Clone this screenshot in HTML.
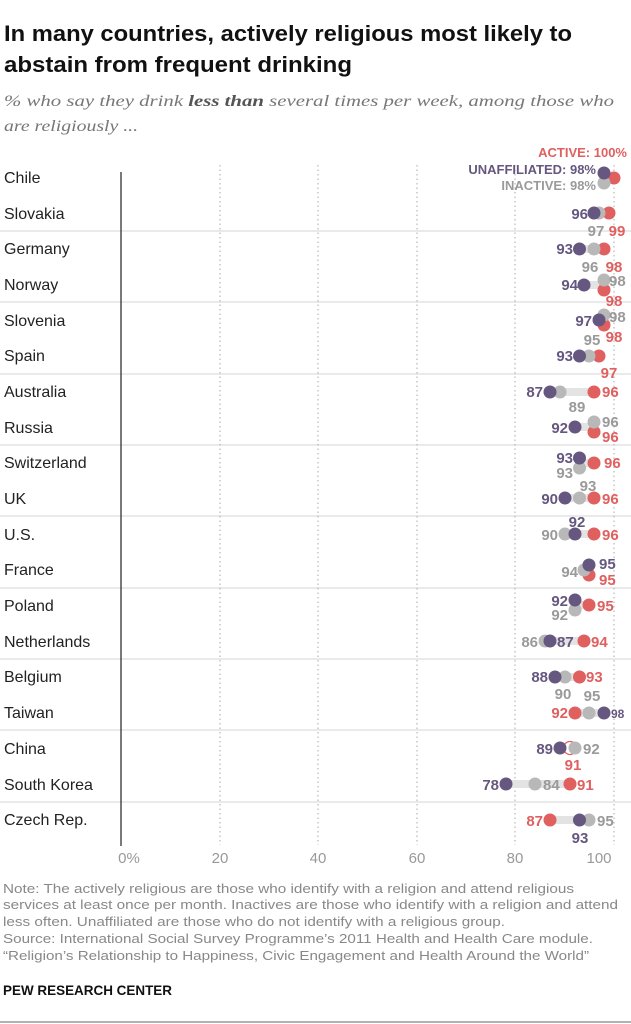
<!DOCTYPE html>
<html><head><meta charset="utf-8"><style>
html,body{margin:0;padding:0;background:#fff}
svg{display:block}
.c{font:16px "Liberation Sans",sans-serif;fill:#222}
.l{font:bold 15px "Liberation Sans",sans-serif}
.u{fill:#65577f}.a{fill:#e05f5f}.i{fill:#9a9a9a}
</style></head><body>
<svg width="631" height="1024" xmlns="http://www.w3.org/2000/svg">
<text x="4" y="41" textLength="568" lengthAdjust="spacingAndGlyphs" style="font:bold 22px 'Liberation Sans',sans-serif" fill="#111">In many countries, actively religious most likely to</text>
<text x="4" y="72" textLength="348" lengthAdjust="spacingAndGlyphs" style="font:bold 22px 'Liberation Sans',sans-serif" fill="#111">abstain from frequent drinking</text>
<text x="4" y="106" textLength="610" lengthAdjust="spacingAndGlyphs" style="font:italic 16px 'Liberation Serif',serif" fill="#777">% who say they drink <tspan font-weight="bold" fill="#555">less than</tspan> several times per week, among those who</text>
<text x="4" y="131" textLength="134" lengthAdjust="spacingAndGlyphs" style="font:italic 16px 'Liberation Serif',serif" fill="#777">are religiously ...</text>
<g stroke="#ddd" stroke-width="1.2">
<line x1="0" y1="231" x2="631" y2="231"/><line x1="0" y1="302" x2="631" y2="302"/>
<line x1="0" y1="374" x2="631" y2="374"/><line x1="0" y1="445" x2="631" y2="445"/>
<line x1="0" y1="516" x2="631" y2="516"/><line x1="0" y1="588" x2="631" y2="588"/>
<line x1="0" y1="659" x2="631" y2="659"/><line x1="0" y1="730" x2="631" y2="730"/>
<line x1="0" y1="802" x2="631" y2="802"/>
</g>
<g stroke="#aaa" stroke-width="1" stroke-dasharray="1.5,3">
<line x1="220" y1="165" x2="220" y2="845"/><line x1="318" y1="165" x2="318" y2="845"/>
<line x1="417" y1="165" x2="417" y2="845"/><line x1="515" y1="165" x2="515" y2="845"/>
<line x1="614" y1="165" x2="614" y2="845"/>
</g>
<line x1="121" y1="172" x2="121" y2="846" stroke="#222" stroke-width="1.2"/>
<g fill="#999" style="font:15px 'Liberation Sans',sans-serif" text-anchor="middle">
<text x="129" y="863">0%</text><text x="220" y="863">20</text><text x="318" y="863">40</text><text x="417" y="863">60</text><text x="515" y="863">80</text><text x="599" y="863">100</text>
</g>
<g class="c">
<text x="4" y="183">Chile</text><text x="4" y="219">Slovakia</text><text x="4" y="254">Germany</text>
<text x="4" y="290">Norway</text><text x="4" y="326">Slovenia</text><text x="4" y="361">Spain</text>
<text x="4" y="397">Australia</text><text x="4" y="433">Russia</text><text x="4" y="468">Switzerland</text>
<text x="4" y="504">UK</text><text x="4" y="540">U.S.</text><text x="4" y="575">France</text>
<text x="4" y="611">Poland</text><text x="4" y="647">Netherlands</text><text x="4" y="682">Belgium</text>
<text x="4" y="718">Taiwan</text><text x="4" y="754">China</text><text x="4" y="790">South Korea</text>
<text x="4" y="825">Czech Rep.</text>
</g>
<g fill="#e3e3e3">
<rect x="550" y="388" width="44" height="8"/><rect x="565" y="494" width="29" height="8"/>
<rect x="565" y="530" width="29" height="8"/><rect x="545" y="637" width="39" height="8"/>
<rect x="555" y="673" width="25" height="8"/><rect x="575" y="709" width="29" height="8"/>
<rect x="506" y="780" width="64" height="8"/><rect x="550" y="816" width="39" height="8"/>
<rect x="579" y="245" width="25" height="8"/><rect x="584" y="281" width="20" height="8"/>
<rect x="579" y="352" width="20" height="8"/><rect x="575" y="423" width="19" height="8"/>
<rect x="575" y="459" width="19" height="8"/><rect x="575" y="601" width="14" height="8"/>
</g>
<g>
<circle cx="614" cy="178" r="6.5" fill="#e05f5f"/><circle cx="604" cy="183" r="6.5" fill="#b8b8b8"/><circle cx="604" cy="173" r="6.5" fill="#65577f"/>
<circle cx="609" cy="213" r="6.5" fill="#e05f5f"/><circle cx="599" cy="213" r="6.5" fill="#b8b8b8"/><circle cx="594" cy="213" r="6.5" fill="#65577f"/>
<circle cx="604" cy="249" r="6.5" fill="#e05f5f"/><circle cx="594" cy="249" r="6.5" fill="#b8b8b8"/><circle cx="579.5" cy="249" r="6.5" fill="#65577f"/>
<circle cx="604" cy="290" r="6.5" fill="#e05f5f"/><circle cx="604" cy="280" r="6.5" fill="#b8b8b8"/><circle cx="584" cy="285" r="6.5" fill="#65577f"/>
<circle cx="604" cy="325" r="6.5" fill="#e05f5f"/><circle cx="604" cy="315" r="6.5" fill="#b8b8b8"/><circle cx="599" cy="320" r="6.5" fill="#65577f"/>
<circle cx="599" cy="356" r="6.5" fill="#e05f5f"/><circle cx="589" cy="356" r="6.5" fill="#b8b8b8"/><circle cx="579.5" cy="356" r="6.5" fill="#65577f"/>
<circle cx="594" cy="392" r="6.5" fill="#e05f5f"/><circle cx="560" cy="392" r="6.5" fill="#b8b8b8"/><circle cx="550" cy="392" r="6.5" fill="#65577f"/>
<circle cx="594" cy="432" r="6.5" fill="#e05f5f"/><circle cx="594" cy="422" r="6.5" fill="#b8b8b8"/><circle cx="575" cy="427" r="6.5" fill="#65577f"/>
<circle cx="594" cy="463" r="6.5" fill="#e05f5f"/><circle cx="579.5" cy="468" r="6.5" fill="#b8b8b8"/><circle cx="579.5" cy="458" r="6.5" fill="#65577f"/>
<circle cx="594" cy="498" r="6.5" fill="#e05f5f"/><circle cx="579.5" cy="498" r="6.5" fill="#b8b8b8"/><circle cx="565" cy="498" r="6.5" fill="#65577f"/>
<circle cx="594" cy="534" r="6.5" fill="#e05f5f"/><circle cx="565" cy="534" r="6.5" fill="#b8b8b8"/><circle cx="575" cy="534" r="6.5" fill="#65577f"/>
<circle cx="589" cy="575" r="6.5" fill="#e05f5f"/><circle cx="584" cy="570" r="6.5" fill="#b8b8b8"/><circle cx="589" cy="565" r="6.5" fill="#65577f"/>
<circle cx="589" cy="605" r="6.5" fill="#e05f5f"/><circle cx="575" cy="610" r="6.5" fill="#b8b8b8"/><circle cx="575" cy="600" r="6.5" fill="#65577f"/>
<circle cx="584" cy="641" r="6.5" fill="#e05f5f"/><circle cx="545" cy="641" r="6.5" fill="#b8b8b8"/><circle cx="550" cy="641" r="6.5" fill="#65577f"/>
<circle cx="579.5" cy="677" r="6.5" fill="#e05f5f"/><circle cx="565" cy="677" r="6.5" fill="#b8b8b8"/><circle cx="555" cy="677" r="6.5" fill="#65577f"/>
<circle cx="575" cy="713" r="6.5" fill="#e05f5f"/><circle cx="589" cy="713" r="6.5" fill="#b8b8b8"/><circle cx="604" cy="713" r="6.5" fill="#65577f"/>
<circle cx="570" cy="748" r="6.5" fill="#fff" stroke="#e05f5f" stroke-width="1.2"/><circle cx="575" cy="748" r="6.5" fill="#b8b8b8"/><circle cx="560" cy="748" r="6.5" fill="#65577f"/>
<circle cx="570" cy="784" r="6.5" fill="#e05f5f"/><circle cx="535" cy="784" r="6.5" fill="#b8b8b8"/><circle cx="506" cy="784" r="6.5" fill="#65577f"/>
<circle cx="550" cy="820" r="6.5" fill="#e05f5f"/><circle cx="589" cy="820" r="6.5" fill="#b8b8b8"/><circle cx="579.5" cy="820" r="6.5" fill="#65577f"/>
</g>
<g class="l">
<text x="627" y="157" text-anchor="end" class="a" style="font-size:13px">ACTIVE: 100%</text>
<text x="596" y="174" text-anchor="end" class="u" style="font-size:13px">UNAFFILIATED: 98%</text>
<text x="596" y="190" text-anchor="end" class="i" style="font-size:13px">INACTIVE: 98%</text>
<text x="588" y="219" text-anchor="end" class="u">96</text><text x="596" y="236" text-anchor="middle" class="i">97</text><text x="617" y="236" text-anchor="middle" class="a">99</text>
<text x="573" y="254" text-anchor="end" class="u">93</text><text x="590" y="272" text-anchor="middle" class="i">96</text><text x="614" y="272" text-anchor="middle" class="a">98</text>
<text x="578" y="290" text-anchor="end" class="u">94</text><text x="609" y="286" class="i">98</text><text x="614" y="306" text-anchor="middle" class="a">98</text>
<text x="592" y="326" text-anchor="end" class="u">97</text><text x="609" y="322" class="i">98</text><text x="614" y="342" text-anchor="middle" class="a">98</text>
<text x="592" y="345" text-anchor="middle" class="i">95</text><text x="573" y="361" text-anchor="end" class="u">93</text><text x="609" y="378" text-anchor="middle" class="a">97</text>
<text x="543" y="397" text-anchor="end" class="u">87</text><text x="577" y="412" text-anchor="middle" class="i">89</text><text x="602" y="397" class="a">96</text>
<text x="568" y="433" text-anchor="end" class="u">92</text><text x="602" y="427" class="i">96</text><text x="602" y="442" class="a">96</text>
<text x="573" y="463" text-anchor="end" class="u">93</text><text x="573" y="478" text-anchor="end" class="i">93</text><text x="604" y="468" class="a">96</text>
<text x="588" y="491" text-anchor="middle" class="i">93</text><text x="558" y="504" text-anchor="end" class="u">90</text><text x="602" y="504" class="a">96</text>
<text x="577" y="527" text-anchor="middle" class="u">92</text><text x="558" y="540" text-anchor="end" class="i">90</text><text x="602" y="540" class="a">96</text>
<text x="578" y="577" text-anchor="end" class="i">94</text><text x="599" y="569" class="u">95</text><text x="599" y="585" class="a">95</text>
<text x="568" y="606" text-anchor="end" class="u">92</text><text x="568" y="620" text-anchor="end" class="i">92</text><text x="597" y="611" class="a">95</text>
<text x="538" y="647" text-anchor="end" class="i">86</text><text x="557" y="647" class="u">87</text><text x="591" y="647" class="a">94</text>
<text x="548" y="682" text-anchor="end" class="u">88</text><text x="563" y="699" text-anchor="middle" class="i">90</text><text x="586" y="682" class="a">93</text>
<text x="592" y="701" text-anchor="middle" class="i">95</text><text x="568" y="718" text-anchor="end" class="a">92</text><text x="611" y="718" class="u" style="font-size:12px">98</text>
<text x="553" y="754" text-anchor="end" class="u">89</text><text x="583" y="754" class="i">92</text><text x="573" y="770" text-anchor="middle" class="a">91</text>
<text x="499" y="790" text-anchor="end" class="u">78</text><text x="543" y="790" class="i">84</text><text x="577" y="790" class="a">91</text>
<text x="543" y="826" text-anchor="end" class="a">87</text><text x="597" y="826" class="i">95</text><text x="580" y="843" text-anchor="middle" class="u">93</text>
</g>
<g fill="#888" style="font:13px 'Liberation Sans Narrow','Liberation Sans',sans-serif">
<text x="3" y="893" textLength="571" lengthAdjust="spacingAndGlyphs">Note: The actively religious are those who identify with a religion and attend religious</text>
<text x="3" y="909" textLength="615" lengthAdjust="spacingAndGlyphs">services at least once per month. Inactives are those who identify with a religion and attend</text>
<text x="3" y="926" textLength="502" lengthAdjust="spacingAndGlyphs">less often. Unaffiliated are those who do not identify with a religious group.</text>
<text x="3" y="943" textLength="590" lengthAdjust="spacingAndGlyphs">Source: International Social Survey Programme’s 2011 Health and Health Care module.</text>
<text x="3" y="960" textLength="586" lengthAdjust="spacingAndGlyphs">“Religion’s Relationship to Happiness, Civic Engagement and Health Around the World”</text>
</g>
<text x="3" y="995" fill="#111" textLength="169" lengthAdjust="spacingAndGlyphs" style="font:bold 14px 'Liberation Sans Narrow','Liberation Sans',sans-serif">PEW RESEARCH CENTER</text>
<line x1="0" y1="1022" x2="631" y2="1022" stroke="#999" stroke-width="1.5"/>
</svg>
</body></html>
